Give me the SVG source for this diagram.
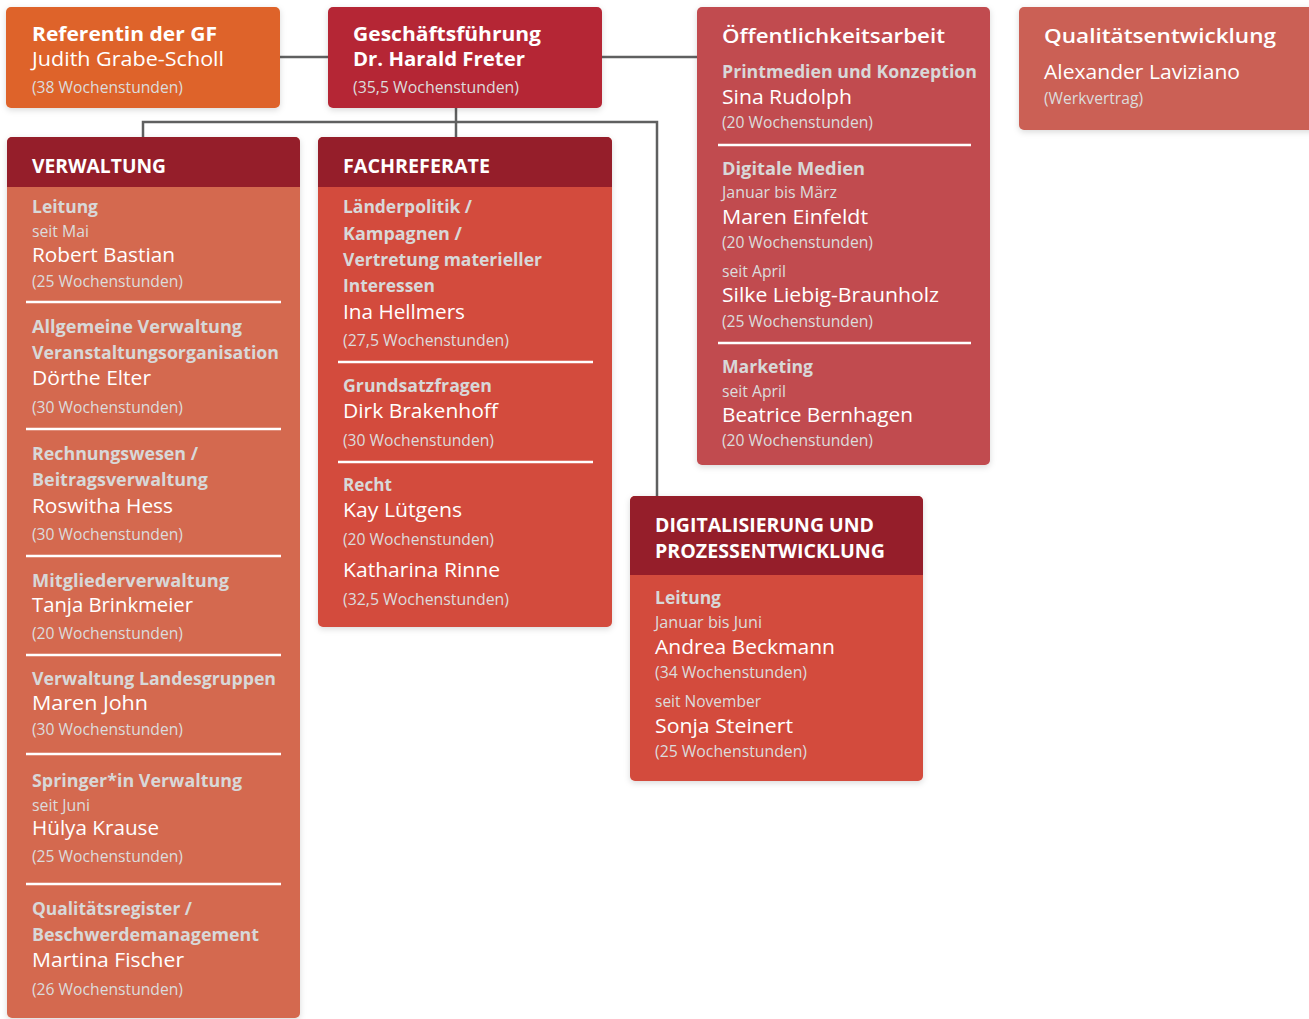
<svg xmlns="http://www.w3.org/2000/svg" width="1309" height="1019" viewBox="0 0 1309 1019">
<style>
text{font-family:"Open Sans","Liberation Sans",sans-serif;}
.t{font-size:20px;font-weight:700;fill:#fff;}
.h{font-size:20px;font-weight:700;fill:#fff;}
.n{font-size:20px;font-weight:400;fill:#fff;}
.s{font-size:18.5px;font-weight:700;fill:#D8D8D8;}
.w{font-size:17px;font-weight:400;fill:#DCDCDC;}
.d{font-size:17px;font-weight:400;fill:#DCDCDC;}
.div{stroke:#fff;stroke-width:2.5;}
.con{stroke:#5F6060;stroke-width:2.5;fill:none;}
</style>
<defs>
<filter id="sh" x="-10%" y="-10%" width="120%" height="120%">
<feDropShadow dx="0" dy="2" stdDeviation="3" flood-color="#000" flood-opacity="0.15"/>
</filter>
</defs>
<rect width="1309" height="1019" fill="#fff"/>
<g id="connectors">
<line class="con" x1="280" y1="57" x2="328" y2="57"/>
<line class="con" x1="602" y1="57" x2="697" y2="57"/>
<line class="con" x1="456" y1="108" x2="456" y2="137"/>
<polyline class="con" points="143,137 143,122 657,122 657,496"/>
</g>
<g id="referentin">
<rect x="6" y="7" width="274" height="101" rx="5" fill="#DE6329" filter="url(#sh)"/>
<text class="t" x="32" y="41" textLength="185" lengthAdjust="spacingAndGlyphs">Referentin der GF</text>
<text class="n" x="32" y="66" textLength="192" lengthAdjust="spacingAndGlyphs">Judith Grabe-Scholl</text>
<text class="w" x="32" y="93" textLength="151" lengthAdjust="spacingAndGlyphs">(38 Wochenstunden)</text>
</g>
<g id="geschaeftsfuehrung">
<rect x="328" y="7" width="274" height="101" rx="5" fill="#B52836" filter="url(#sh)"/>
<text class="t" x="353" y="41" textLength="188" lengthAdjust="spacingAndGlyphs">Geschäftsführung</text>
<text class="t" x="353" y="66" textLength="172" lengthAdjust="spacingAndGlyphs">Dr. Harald Freter</text>
<text class="w" x="353" y="93" textLength="166" lengthAdjust="spacingAndGlyphs">(35,5 Wochenstunden)</text>
</g>
<g id="oeffentlichkeitsarbeit">
<rect x="697" y="7" width="293" height="458" rx="5" fill="#C14B50" filter="url(#sh)"/>
<text class="t" x="722" y="43" textLength="223" lengthAdjust="spacingAndGlyphs" style="font-weight:600">Öffentlichkeitsarbeit</text>
<text class="s" x="722" y="78" textLength="255" lengthAdjust="spacingAndGlyphs">Printmedien und Konzeption</text>
<text class="n" x="722" y="104" textLength="130" lengthAdjust="spacingAndGlyphs">Sina Rudolph</text>
<text class="w" x="722" y="128" textLength="151" lengthAdjust="spacingAndGlyphs">(20 Wochenstunden)</text>
<line class="div" x1="718" y1="145" x2="971" y2="145"/>
<text class="s" x="722" y="175" textLength="143" lengthAdjust="spacingAndGlyphs">Digitale Medien</text>
<text class="d" x="722" y="198" textLength="115" lengthAdjust="spacingAndGlyphs">Januar bis März</text>
<text class="n" x="722" y="224" textLength="146" lengthAdjust="spacingAndGlyphs">Maren Einfeldt</text>
<text class="w" x="722" y="248" textLength="151" lengthAdjust="spacingAndGlyphs">(20 Wochenstunden)</text>
<text class="d" x="722" y="277" textLength="64" lengthAdjust="spacingAndGlyphs">seit April</text>
<text class="n" x="722" y="302" textLength="217" lengthAdjust="spacingAndGlyphs">Silke Liebig-Braunholz</text>
<text class="w" x="722" y="327" textLength="151" lengthAdjust="spacingAndGlyphs">(25 Wochenstunden)</text>
<line class="div" x1="718" y1="343" x2="971" y2="343"/>
<text class="s" x="722" y="373" textLength="91" lengthAdjust="spacingAndGlyphs">Marketing</text>
<text class="d" x="722" y="397" textLength="64" lengthAdjust="spacingAndGlyphs">seit April</text>
<text class="n" x="722" y="422" textLength="191" lengthAdjust="spacingAndGlyphs">Beatrice Bernhagen</text>
<text class="w" x="722" y="446" textLength="151" lengthAdjust="spacingAndGlyphs">(20 Wochenstunden)</text>
</g>
<g id="qualitaetsentwicklung">
<rect x="1019" y="7" width="300" height="123" rx="5" fill="#CB6154" filter="url(#sh)"/>
<text class="t" x="1044" y="43" textLength="232" lengthAdjust="spacingAndGlyphs" style="font-weight:600">Qualitätsentwicklung</text>
<text class="n" x="1044" y="79" textLength="196" lengthAdjust="spacingAndGlyphs">Alexander Laviziano</text>
<text class="w" x="1044" y="104" textLength="99" lengthAdjust="spacingAndGlyphs">(Werkvertrag)</text>
</g>
<g id="verwaltung">
<rect x="7" y="137" width="293" height="881" rx="5" fill="#D4694F" filter="url(#sh)"/>
<path d="M7,187 V142 A5,5 0 0 1 12,137 H295 A5,5 0 0 1 300,142 V187 Z" fill="#951E2A"/>
<text class="h" x="32" y="173" textLength="134" lengthAdjust="spacingAndGlyphs">VERWALTUNG</text>
<text class="s" x="32" y="213" textLength="66" lengthAdjust="spacingAndGlyphs">Leitung</text>
<text class="d" x="32" y="237" textLength="57" lengthAdjust="spacingAndGlyphs">seit Mai</text>
<text class="n" x="32" y="262" textLength="143" lengthAdjust="spacingAndGlyphs">Robert Bastian</text>
<text class="w" x="32" y="287" textLength="151" lengthAdjust="spacingAndGlyphs">(25 Wochenstunden)</text>
<line class="div" x1="26" y1="302" x2="281" y2="302"/>
<text class="s" x="32" y="333" textLength="210" lengthAdjust="spacingAndGlyphs">Allgemeine Verwaltung</text>
<text class="s" x="32" y="359" textLength="247" lengthAdjust="spacingAndGlyphs">Veranstaltungsorganisation</text>
<text class="n" x="32" y="385" textLength="119" lengthAdjust="spacingAndGlyphs">Dörthe Elter</text>
<text class="w" x="32" y="413" textLength="151" lengthAdjust="spacingAndGlyphs">(30 Wochenstunden)</text>
<line class="div" x1="26" y1="429" x2="281" y2="429"/>
<text class="s" x="32" y="460" textLength="166" lengthAdjust="spacingAndGlyphs">Rechnungswesen /</text>
<text class="s" x="32" y="486" textLength="176" lengthAdjust="spacingAndGlyphs">Beitragsverwaltung</text>
<text class="n" x="32" y="513" textLength="141" lengthAdjust="spacingAndGlyphs">Roswitha Hess</text>
<text class="w" x="32" y="540" textLength="151" lengthAdjust="spacingAndGlyphs">(30 Wochenstunden)</text>
<line class="div" x1="26" y1="556" x2="281" y2="556"/>
<text class="s" x="32" y="587" textLength="197" lengthAdjust="spacingAndGlyphs">Mitgliederverwaltung</text>
<text class="n" x="32" y="612" textLength="161" lengthAdjust="spacingAndGlyphs">Tanja Brinkmeier</text>
<text class="w" x="32" y="639" textLength="151" lengthAdjust="spacingAndGlyphs">(20 Wochenstunden)</text>
<line class="div" x1="26" y1="655" x2="281" y2="655"/>
<text class="s" x="32" y="685" textLength="244" lengthAdjust="spacingAndGlyphs">Verwaltung Landesgruppen</text>
<text class="n" x="32" y="710" textLength="116" lengthAdjust="spacingAndGlyphs">Maren John</text>
<text class="w" x="32" y="735" textLength="151" lengthAdjust="spacingAndGlyphs">(30 Wochenstunden)</text>
<line class="div" x1="26" y1="754" x2="281" y2="754"/>
<text class="s" x="32" y="787" textLength="210" lengthAdjust="spacingAndGlyphs">Springer*in Verwaltung</text>
<text class="d" x="32" y="811" textLength="58" lengthAdjust="spacingAndGlyphs">seit Juni</text>
<text class="n" x="32" y="835" textLength="127" lengthAdjust="spacingAndGlyphs">Hülya Krause</text>
<text class="w" x="32" y="862" textLength="151" lengthAdjust="spacingAndGlyphs">(25 Wochenstunden)</text>
<line class="div" x1="26" y1="884" x2="281" y2="884"/>
<text class="s" x="32" y="915" textLength="160" lengthAdjust="spacingAndGlyphs">Qualitätsregister /</text>
<text class="s" x="32" y="941" textLength="227" lengthAdjust="spacingAndGlyphs">Beschwerdemanagement</text>
<text class="n" x="32" y="967" textLength="152" lengthAdjust="spacingAndGlyphs">Martina Fischer</text>
<text class="w" x="32" y="995" textLength="151" lengthAdjust="spacingAndGlyphs">(26 Wochenstunden)</text>
</g>
<g id="fachreferate">
<rect x="318" y="137" width="294" height="490" rx="5" fill="#D34B3D" filter="url(#sh)"/>
<path d="M318,187 V142 A5,5 0 0 1 323,137 H607 A5,5 0 0 1 612,142 V187 Z" fill="#951E2A"/>
<text class="h" x="343" y="173" textLength="147" lengthAdjust="spacingAndGlyphs">FACHREFERATE</text>
<text class="s" x="343" y="213" textLength="129" lengthAdjust="spacingAndGlyphs">Länderpolitik /</text>
<text class="s" x="343" y="240" textLength="119" lengthAdjust="spacingAndGlyphs">Kampagnen /</text>
<text class="s" x="343" y="266" textLength="199" lengthAdjust="spacingAndGlyphs">Vertretung materieller</text>
<text class="s" x="343" y="292" textLength="92" lengthAdjust="spacingAndGlyphs">Interessen</text>
<text class="n" x="343" y="319" textLength="122" lengthAdjust="spacingAndGlyphs">Ina Hellmers</text>
<text class="w" x="343" y="346" textLength="166" lengthAdjust="spacingAndGlyphs">(27,5 Wochenstunden)</text>
<line class="div" x1="338" y1="362" x2="593" y2="362"/>
<text class="s" x="343" y="392" textLength="149" lengthAdjust="spacingAndGlyphs">Grundsatzfragen</text>
<text class="n" x="343" y="418" textLength="155" lengthAdjust="spacingAndGlyphs">Dirk Brakenhoff</text>
<text class="w" x="343" y="446" textLength="151" lengthAdjust="spacingAndGlyphs">(30 Wochenstunden)</text>
<line class="div" x1="338" y1="462" x2="593" y2="462"/>
<text class="s" x="343" y="491" textLength="49" lengthAdjust="spacingAndGlyphs">Recht</text>
<text class="n" x="343" y="517" textLength="119" lengthAdjust="spacingAndGlyphs">Kay Lütgens</text>
<text class="w" x="343" y="545" textLength="151" lengthAdjust="spacingAndGlyphs">(20 Wochenstunden)</text>
<text class="n" x="343" y="577" textLength="157" lengthAdjust="spacingAndGlyphs">Katharina Rinne</text>
<text class="w" x="343" y="605" textLength="166" lengthAdjust="spacingAndGlyphs">(32,5 Wochenstunden)</text>
</g>
<g id="digitalisierung">
<rect x="630" y="496" width="293" height="285" rx="5" fill="#D34B3D" filter="url(#sh)"/>
<path d="M630,575 V501 A5,5 0 0 1 635,496 H918 A5,5 0 0 1 923,501 V575 Z" fill="#951E2A"/>
<text class="h" x="655" y="532" textLength="219" lengthAdjust="spacingAndGlyphs">DIGITALISIERUNG UND</text>
<text class="h" x="655" y="558" textLength="230" lengthAdjust="spacingAndGlyphs">PROZESSENTWICKLUNG</text>
<text class="s" x="655" y="604" textLength="66" lengthAdjust="spacingAndGlyphs">Leitung</text>
<text class="d" x="655" y="628" textLength="107" lengthAdjust="spacingAndGlyphs">Januar bis Juni</text>
<text class="n" x="655" y="654" textLength="180" lengthAdjust="spacingAndGlyphs">Andrea Beckmann</text>
<text class="w" x="655" y="678" textLength="152" lengthAdjust="spacingAndGlyphs">(34 Wochenstunden)</text>
<text class="d" x="655" y="707" textLength="106" lengthAdjust="spacingAndGlyphs">seit November</text>
<text class="n" x="655" y="733" textLength="138" lengthAdjust="spacingAndGlyphs">Sonja Steinert</text>
<text class="w" x="655" y="757" textLength="152" lengthAdjust="spacingAndGlyphs">(25 Wochenstunden)</text>
</g>
</svg>
